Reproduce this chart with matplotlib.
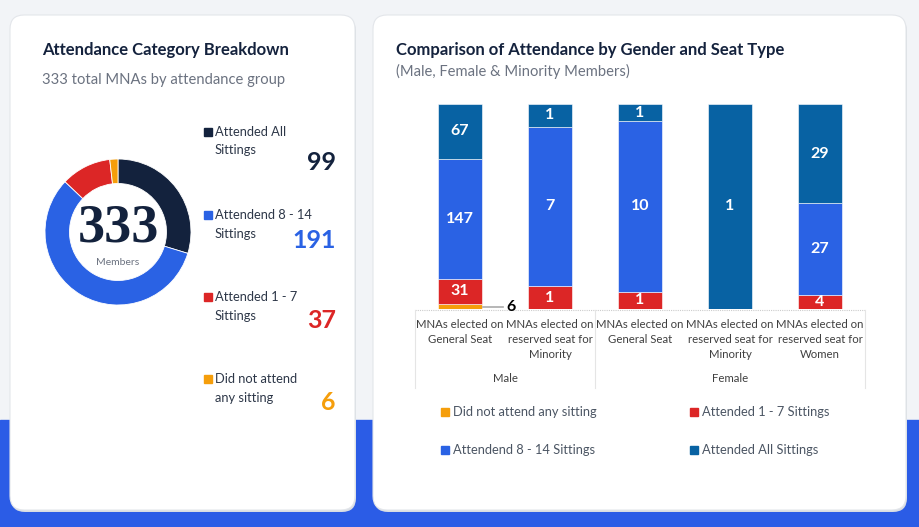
import numpy as np
import matplotlib
matplotlib.use("Agg")
import matplotlib.pyplot as plt
from matplotlib.patches import FancyBboxPatch, Rectangle

plt.rcParams['font.family'] = ['Lato', 'DejaVu Sans']

# donut data
pie_labels = ["Attended All\nSittings", "Attendend 8 - 14\nSittings", "Attended 1 - 7\nSittings", "Did not attend\nany sitting"]
pie_values = [99, 191, 37, 6]
pie_colors = ["#13223d", "#2a62e4", "#dc2626", "#f59e0b"]

# stacked bar data
categories = ["MNAs elected on\nGeneral Seat", "MNAs elected on\nreserved seat for\nMinority",
              "MNAs elected on\nGeneral Seat", "MNAs elected on\nreserved seat for\nMinority",
              "MNAs elected on\nreserved seat for\nWomen"]
groups = ["Male", "Female"]
group_sizes = [2, 3]
series = ["Did not attend any sitting", "Attended 1 - 7 Sittings", "Attendend 8 - 14 Sittings", "Attended All Sittings"]
did_not = [6, 0, 0, 0, 0]
att_1_7 = [31, 1, 1, 0, 4]
att_8_14 = [147, 7, 10, 0, 27]
att_all = [67, 1, 1, 1, 29]
bar_colors = ["#f59e0b", "#dc2626", "#2a62e4", "#0862a3"]

W, H = 919, 527
fig = plt.figure(figsize=(W / 100, H / 100), dpi=100)

# background in pixel coordinates
bg = fig.add_axes([0, 0, 1, 1])
bg.set_xlim(0, W)
bg.set_ylim(H, 0)
bg.axis("off")
bg.add_patch(Rectangle((0, 0), W, 420, color="#f2f4f7", zorder=0))
bg.add_patch(Rectangle((0, 420), W, H - 420, color="#2b5ce6", zorder=0))
for x0, x1 in [(10, 355), (373, 906)]:
    bg.add_patch(FancyBboxPatch((x0 + 1, 17), x1 - x0, 495, boxstyle="round,pad=0,rounding_size=14",
                                fc="#d9dde3", ec="none", zorder=1))
    bg.add_patch(FancyBboxPatch((x0, 15), x1 - x0, 495, boxstyle="round,pad=0,rounding_size=14",
                                fc="white", ec="#e3e6ea", lw=0.8, zorder=2))

# left card texts
bg.text(42, 50, "Attendance Category Breakdown", fontsize=12, fontweight="bold", color="#14223d",
        va="center", zorder=3)
bg.text(42, 80, "333 total MNAs by attendance group", fontsize=10.6, color="#6b7280", va="center", zorder=3)
row_y = [132, 215, 297, 379]
num_y = [162, 240, 320, 403]
for lab, val, col, ty, ny in zip(pie_labels, pie_values, pie_colors, row_y, num_y):
    bg.add_patch(Rectangle((204, ty - 4), 8, 8, color=col, zorder=3))
    for k, line in enumerate(lab.split("\n")):
        bg.text(215, ty + 18.5 * k, line, fontsize=9.3, color="#2d3748", va="center", ha="left", zorder=3)
    bg.text(336, ny, str(val), fontsize=18, fontweight="bold", color=col, ha="right", va="center", zorder=3)

# donut
cx, cy, R = 118, 232, 80
pax = fig.add_axes([(cx - R) / W, 1 - (cy + R) / H, 2 * R / W, 2 * R / H])
pax.pie(pie_values, colors=pie_colors, startangle=90, counterclock=False, radius=73 / 80,
        wedgeprops=dict(width=24.5 / 80, edgecolor="white", linewidth=0.6))
pax.set_xlim(-1, 1)
pax.set_ylim(-1, 1)
pax.text(0, 0.05, "333", fontsize=39, family="Liberation Serif", fontweight="bold", color="#13223d",
         ha="center", va="center")
pax.text(0, -0.38, "Members", fontsize=7.5, color="#6b7280", ha="center", va="center")

# right card texts
bg.text(396, 50, "Comparison of Attendance by Gender and Seat Type", fontsize=12, fontweight="bold",
        color="#14223d", va="center", zorder=3)
bg.text(396, 71, "(Male, Female & Minority Members)", fontsize=10.6, color="#6b7280", va="center", zorder=3)

# stacked 100% bars
ax0, ax1, ay0, ay1 = 415, 865, 104, 309
bax = fig.add_axes([ax0 / W, 1 - ay1 / H, (ax1 - ax0) / W, (ay1 - ay0) / H])
data = np.array([did_not, att_1_7, att_8_14, att_all], dtype=float)
tot = data.sum(axis=0)
share = data / tot
x = np.arange(len(categories))
bottom = np.zeros(len(categories))
for i, (name, col) in enumerate(zip(series, bar_colors)):
    bax.bar(x, share[i], 0.48, bottom=bottom, color=col, edgecolor="white", linewidth=0.4, label=name)
    for j in range(len(categories)):
        v = data[i, j]
        if v == 0:
            continue
        if i == 0:
            bax.plot([j + 0.26, j + 0.48], [bottom[j] + share[i, j] / 2] * 2, color="#aaaaaa", lw=1.2)
            bax.text(j + 0.52, bottom[j] + share[i, j] / 2, f"{int(v)}", fontsize=11.5, fontweight="bold",
                     color="black", ha="left", va="center")
        else:
            bax.text(j, bottom[j] + share[i, j] / 2, f"{int(v)}", fontsize=11.5, fontweight="bold",
                     color="white", ha="center", va="center", clip_on=True)
    bottom += share[i]
bax.set_xlim(-0.5, len(categories) - 0.5)
bax.set_ylim(0, 1)
bax.axis("off")

# category axis drawn in pixel space
bg.plot([ax0, ax1], [ay1 + 1, ay1 + 1], color="#cccccc", lw=0.8, ls=(0, (1, 1)), zorder=3)
step = (ax1 - ax0) / len(categories)
for j, cat in enumerate(categories):
    for k, line in enumerate(cat.split("\n")):
        bg.text(ax0 + step * (j + 0.5), 325 + 14.5 * k, line, fontsize=8.2, color="#404040", ha="center",
                va="center", zorder=3)
edges = np.concatenate([[0], np.cumsum(group_sizes)])
for e in edges:
    bg.plot([ax0 + step * e] * 2, [ay1 + 1, 388], color="#e5e5e5", lw=0.8, zorder=3)
for g, a, b in zip(groups, edges[:-1], edges[1:]):
    bg.text(ax0 + step * (a + b) / 2, 378, g, fontsize=8.2, color="#404040", ha="center", va="center", zorder=3)

# legend
leg_pos = [(441, 412), (690, 412), (441, 450), (690, 450)]
for (lx, ly), name, col in zip(leg_pos, series, bar_colors):
    bg.add_patch(Rectangle((lx, ly - 4), 8, 8, color=col, zorder=3))
    bg.text(lx + 12, ly, name, fontsize=9.3, color="#4b5563", va="center", zorder=3)

fig.savefig("out.png", dpi=100)
